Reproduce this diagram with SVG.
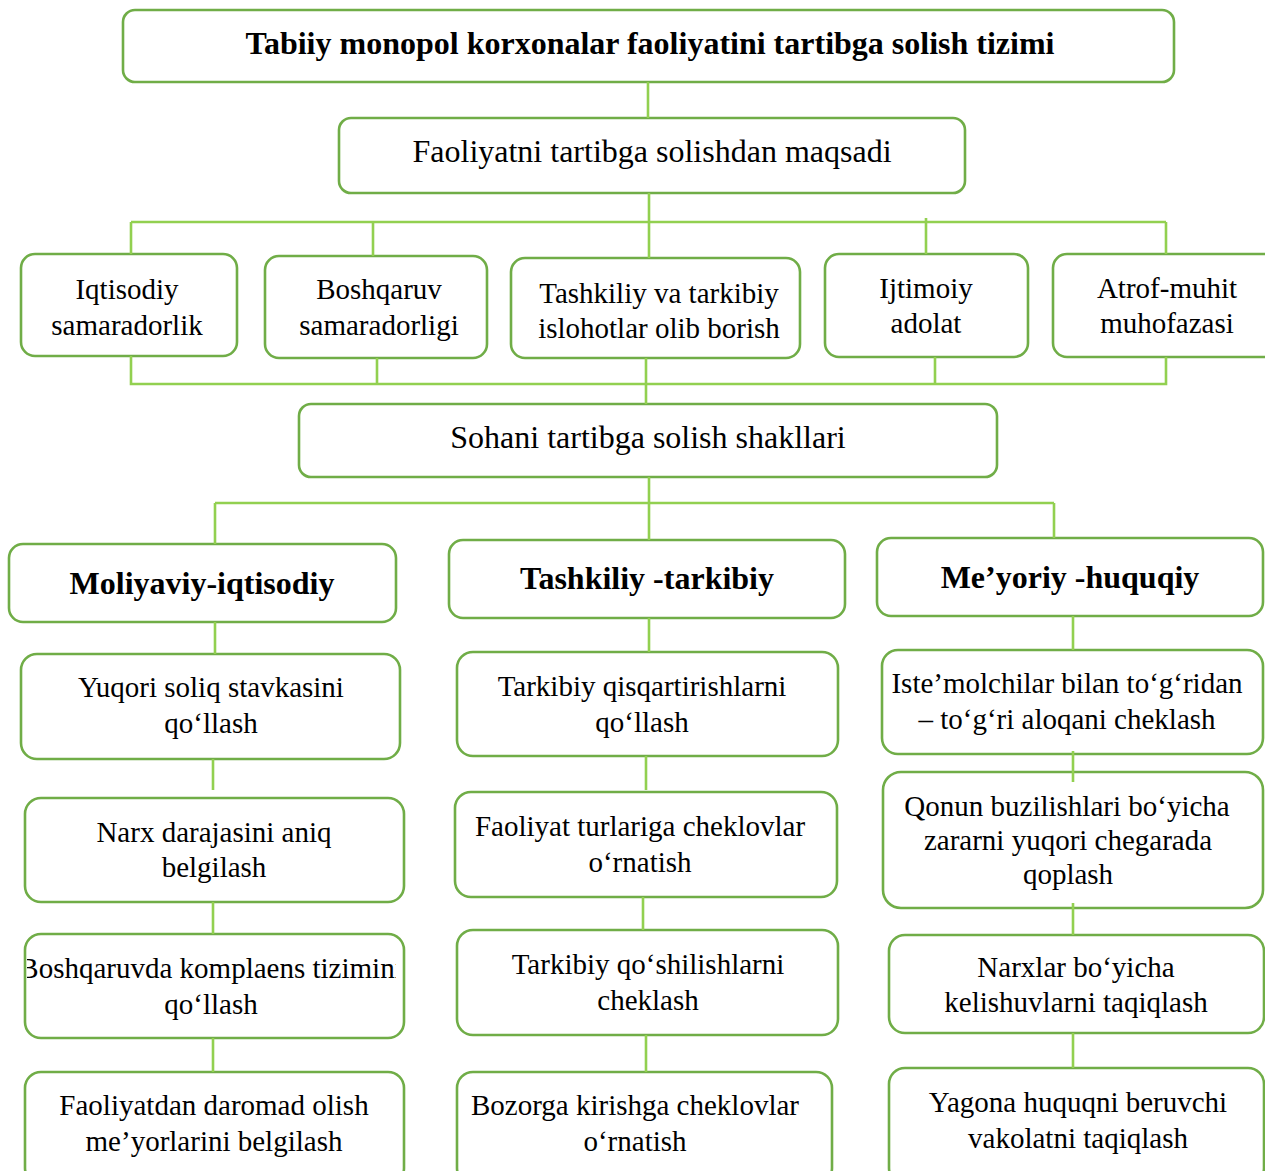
<svg xmlns="http://www.w3.org/2000/svg" width="1265" height="1171" viewBox="0 0 1265 1171">
<style>
.box{fill:#fff;stroke:#70ad47;stroke-width:2.6}
.con{fill:none;stroke:#92d050;stroke-width:2.6}
text{font-family:"Liberation Serif","Times New Roman",Times,serif;fill:#000;text-anchor:middle}
.t{font-size:29px}
.h{font-size:32px}
.b{font-size:32px;font-weight:bold}
</style>
<defs>
<clipPath id="clipBosh"><rect x="27" y="934" width="369" height="104"/></clipPath>
</defs>
<rect width="1265" height="1171" fill="#fff"/>
<g id="nodes" font-family="Liberation Serif, serif">
<g id="n-title"><rect class="box" x="123" y="10" width="1051" height="72" rx="12"/><text class="b" x="650" y="54">Tabiiy monopol korxonalar faoliyatini tartibga solish tizimi</text></g>
<g id="n-maqsad"><rect class="box" x="339" y="118" width="626" height="75" rx="12"/><text class="h" x="652" y="162">Faoliyatni tartibga solishdan maqsadi</text></g>
<g id="n-iqt"><rect class="box" x="21" y="254" width="216" height="102" rx="14"/><text class="t" x="127" y="299">Iqtisodiy</text><text class="t" x="127" y="335">samaradorlik</text></g>
<g id="n-bosh"><rect class="box" x="265" y="256" width="222" height="102" rx="14"/><text class="t" x="379" y="299">Boshqaruv</text><text class="t" x="379" y="335">samaradorligi</text></g>
<g id="n-tash"><rect class="box" x="511" y="258" width="289" height="100" rx="14"/><text class="t" x="659" y="303">Tashkiliy va tarkibiy</text><text class="t" x="659" y="338">islohotlar olib borish</text></g>
<g id="n-ijt"><rect class="box" x="825" y="254" width="203" height="103" rx="14"/><text class="t" x="926" y="298">Ijtimoiy</text><text class="t" x="926" y="333">adolat</text></g>
<g id="n-atrof"><rect class="box" x="1053" y="254" width="225" height="103" rx="14"/><text class="t" x="1167" y="298">Atrof-muhit</text><text class="t" x="1167" y="333">muhofazasi</text></g>
<g id="n-sohani"><rect class="box" x="299" y="404" width="698" height="73" rx="12"/><text class="h" x="648" y="448">Sohani tartibga solish shakllari</text></g>
<g id="n-moliya"><rect class="box" x="9" y="544" width="387" height="78" rx="14"/><text class="b" x="202" y="594">Moliyaviy-iqtisodiy</text></g>
<g id="n-yuqori"><rect class="box" x="21" y="654" width="379" height="105" rx="16"/><text class="t" x="211" y="697">Yuqori soliq stavkasini</text><text class="t" x="211" y="733">qo‘llash</text></g>
<g id="n-narx"><rect class="box" x="25" y="798" width="379" height="104" rx="16"/><text class="t" x="214" y="842">Narx darajasini aniq</text><text class="t" x="214" y="877">belgilash</text></g>
<g id="n-komplaens"><rect class="box" x="25" y="934" width="379" height="104" rx="16"/><text class="t" x="211" y="978" clip-path="url(#clipBosh)">Boshqaruvda komplaens tizimini</text><text class="t" x="211" y="1014">qo‘llash</text></g>
<g id="n-daromad"><rect class="box" x="25" y="1072" width="379" height="112" rx="16"/><text class="t" x="214" y="1115">Faoliyatdan daromad olish</text><text class="t" x="214" y="1151">me’yorlarini belgilash</text></g>
<g id="n-tashtark"><rect class="box" x="449" y="540" width="396" height="78" rx="14"/><text class="b" x="647" y="589">Tashkiliy -tarkibiy</text></g>
<g id="n-qisqar"><rect class="box" x="457" y="652" width="381" height="104" rx="16"/><text class="t" x="642" y="696">Tarkibiy qisqartirishlarni</text><text class="t" x="642" y="732">qo‘llash</text></g>
<g id="n-turlar"><rect class="box" x="455" y="792" width="382" height="105" rx="16"/><text class="t" x="640" y="836">Faoliyat turlariga cheklovlar</text><text class="t" x="640" y="872">o‘rnatish</text></g>
<g id="n-qoshil"><rect class="box" x="457" y="930" width="381" height="105" rx="16"/><text class="t" x="648" y="974">Tarkibiy qo‘shilishlarni</text><text class="t" x="648" y="1010">cheklash</text></g>
<g id="n-bozor"><rect class="box" x="457" y="1072" width="375" height="112" rx="16"/><text class="t" x="635" y="1115">Bozorga kirishga cheklovlar</text><text class="t" x="635" y="1151">o‘rnatish</text></g>
<g id="n-meyor"><rect class="box" x="877" y="538" width="386" height="78" rx="14"/><text class="b" x="1070" y="588">Me’yoriy -huquqiy</text></g>
<g id="n-istemol"><rect class="box" x="882" y="650" width="381" height="104" rx="16"/><text class="t" x="1067" y="693">Iste’molchilar bilan to‘g‘ridan</text><text class="t" x="1067" y="729">– to‘g‘ri aloqani cheklash</text></g>
<g id="n-qonun"><rect class="box" x="883" y="772" width="380" height="136" rx="18"/><text class="t" x="1067" y="816">Qonun buzilishlari bo‘yicha</text><text class="t" x="1068" y="850">zararni yuqori chegarada</text><text class="t" x="1068" y="884">qoplash</text></g>
<g id="n-narxlar"><rect class="box" x="889" y="935" width="375" height="98" rx="16"/><text class="t" x="1076" y="977">Narxlar bo‘yicha</text><text class="t" x="1076" y="1012">kelishuvlarni taqiqlash</text></g>
<g id="n-yagona"><rect class="box" x="889" y="1068" width="375" height="116" rx="16"/><text class="t" x="1078" y="1112">Yagona huquqni beruvchi</text><text class="t" x="1078" y="1148">vakolatni taqiqlash</text></g>
</g>
<g id="connectors">
<path class="con" d="M648 82V118"/>
<path class="con" d="M649 193V258M131 222H1166M131 222V254M373 222V256M926 218V254M1166 222V254"/>
<path class="con" d="M131 356V384H1166V357M377 358V384M935 357V384M646 358V404"/>
<path class="con" d="M649 477V540M215 503H1054M215 503V544M1054 503V538"/>
<path class="con" d="M215 622V654M213 759V790M213 902V934M213 1038V1072"/>
<path class="con" d="M649 618V652M646 756V790M643 897V930M646 1035V1072"/>
<path class="con" d="M1073 616V650M1073 751V782M1073 903V935M1073 1033V1068"/>
</g>
</svg>
